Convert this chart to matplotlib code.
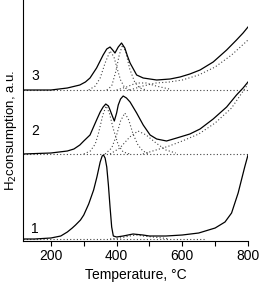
import matplotlib
matplotlib.use('Agg')
import matplotlib.pyplot as plt

plt.rcParams['font.family'] = ['Liberation Sans', 'DejaVu Sans']

# curve 1 (solid)
t1 = [115, 150, 200, 230, 250, 265, 275, 290, 300, 315, 330, 340, 350, 356, 360, 365, 370,
      375, 380, 385, 390, 400, 420, 450, 480, 500, 550, 600, 650, 700, 730, 750, 760, 770,
      780, 790, 800]
y1 = [2, 2, 3, 5, 9, 13, 16, 21, 26, 37, 51, 64, 79, 85, 86, 83, 74, 56, 34, 14, 5, 4, 5,
      7, 6, 5, 5, 6, 8, 13, 19, 28, 38, 48, 61, 74, 86]
# curve 1 dotted parts
t1_base = [115, 670]
y1_base = [2, 2]
t1_peak = [380, 410, 440, 460, 480, 510, 540, 560]
y1_peak = [2, 3, 5, 6, 5, 4, 3, 2]

# curve 2 (solid)
t2 = [115, 200, 250, 270, 288, 300, 319, 339, 350, 359, 367, 375, 380, 387, 393, 400, 405,
      412, 420, 430, 441, 461, 481, 502, 522, 552, 583, 623, 654, 694, 735, 765, 785, 800]
y2 = [87, 88, 90, 92, 96, 100, 106, 121, 129, 134, 137, 135, 131, 125, 120, 128, 136, 142,
      145, 143, 139, 128, 116, 106, 102, 100, 103, 107, 112, 122, 134, 146, 153, 159]
t2_base = [115, 800]
y2_base = [87, 87]
t2_ga = [300, 320, 335, 345, 358, 368, 378, 390, 405, 420, 440]
y2_ga = [87, 90, 97, 108, 126, 135, 128, 112, 96, 89, 87]
t2_gb = [365, 385, 400, 412, 425, 437, 450, 465, 480, 500]
y2_gb = [87, 93, 106, 120, 128, 121, 107, 96, 90, 87]
t2_gc = [380, 410, 440, 465, 490, 520, 550, 580]
y2_gc = [87, 93, 104, 110, 106, 98, 91, 88]
t2_bg = [480, 520, 560, 600, 650, 700, 750, 800]
y2_bg = [87, 91, 95, 100, 107, 118, 133, 157]

# curve 3 (solid)
t3 = [115, 200, 250, 288, 305, 319, 339, 359, 370, 380, 388, 395, 405, 415, 425, 433, 441,
      461, 481, 522, 563, 593, 623, 654, 694, 735, 765, 785, 800]
y3 = [151, 151, 153, 156, 159, 163, 173, 186, 192, 194, 191, 188, 194, 198, 193, 185, 178,
      166, 163, 161, 162, 164, 167, 171, 179, 191, 201, 208, 214]
t3_base = [115, 800]
y3_base = [151, 151]
t3_ga = [315, 335, 350, 365, 380, 392, 402, 412, 425, 440]
y3_ga = [151, 155, 163, 178, 190, 184, 172, 161, 153, 151]
t3_gb = [370, 385, 398, 408, 418, 428, 440, 455, 470, 490]
y3_gb = [151, 155, 170, 186, 196, 189, 172, 159, 153, 151]
t3_gc = [400, 430, 460, 490, 520, 560]
y3_gc = [151, 154, 158, 158, 155, 152]
t3_bg = [440, 480, 520, 560, 600, 650, 700, 750, 800]
y3_bg = [151, 155, 158, 159, 161, 166, 174, 186, 201]

curve_labels = ['1', '2', '3']
label_y = [8, 106, 161]

fig = plt.figure(figsize=(2.59, 2.83), dpi=100)
ax = fig.add_axes([0.0888, 0.1484, 0.8687, 0.8516])

dot = dict(color='#444444', lw=0.8, ls=(0, (1, 2)))
solid = dict(color='black', lw=0.9)

for t, y in [(t1_base, y1_base), (t1_peak, y1_peak),
             (t2_base, y2_base), (t2_ga, y2_ga), (t2_gb, y2_gb), (t2_gc, y2_gc), (t2_bg, y2_bg),
             (t3_base, y3_base), (t3_ga, y3_ga), (t3_gb, y3_gb), (t3_gc, y3_gc), (t3_bg, y3_bg)]:
    ax.plot(t, y, **dot)

ax.plot(t1, y1, **solid)
ax.plot(t2, y2, **solid)
ax.plot(t3, y3, **solid)

for lab, ly in zip(curve_labels, label_y):
    ax.text(140, ly, lab, fontsize=10)

ax.set_xlim(115, 800)
ax.set_ylim(0, 241)
ax.set_xticks([200, 400, 600, 800])
ax.set_xticks([300, 500, 700], minor=True)
ax.tick_params(axis='x', which='both', direction='out', length=3.5, width=0.8,
               labelsize=10, pad=2)
ax.set_yticks([])
ax.spines['top'].set_visible(False)
ax.spines['right'].set_visible(False)
ax.set_xlabel('Temperature, °C', fontsize=10, labelpad=4)
ax.set_ylabel('H$_2$consumption, a.u.', fontsize=9.5)
ax.yaxis.set_label_coords(-0.018, 0.46)

fig.savefig('out.png', dpi=100)
